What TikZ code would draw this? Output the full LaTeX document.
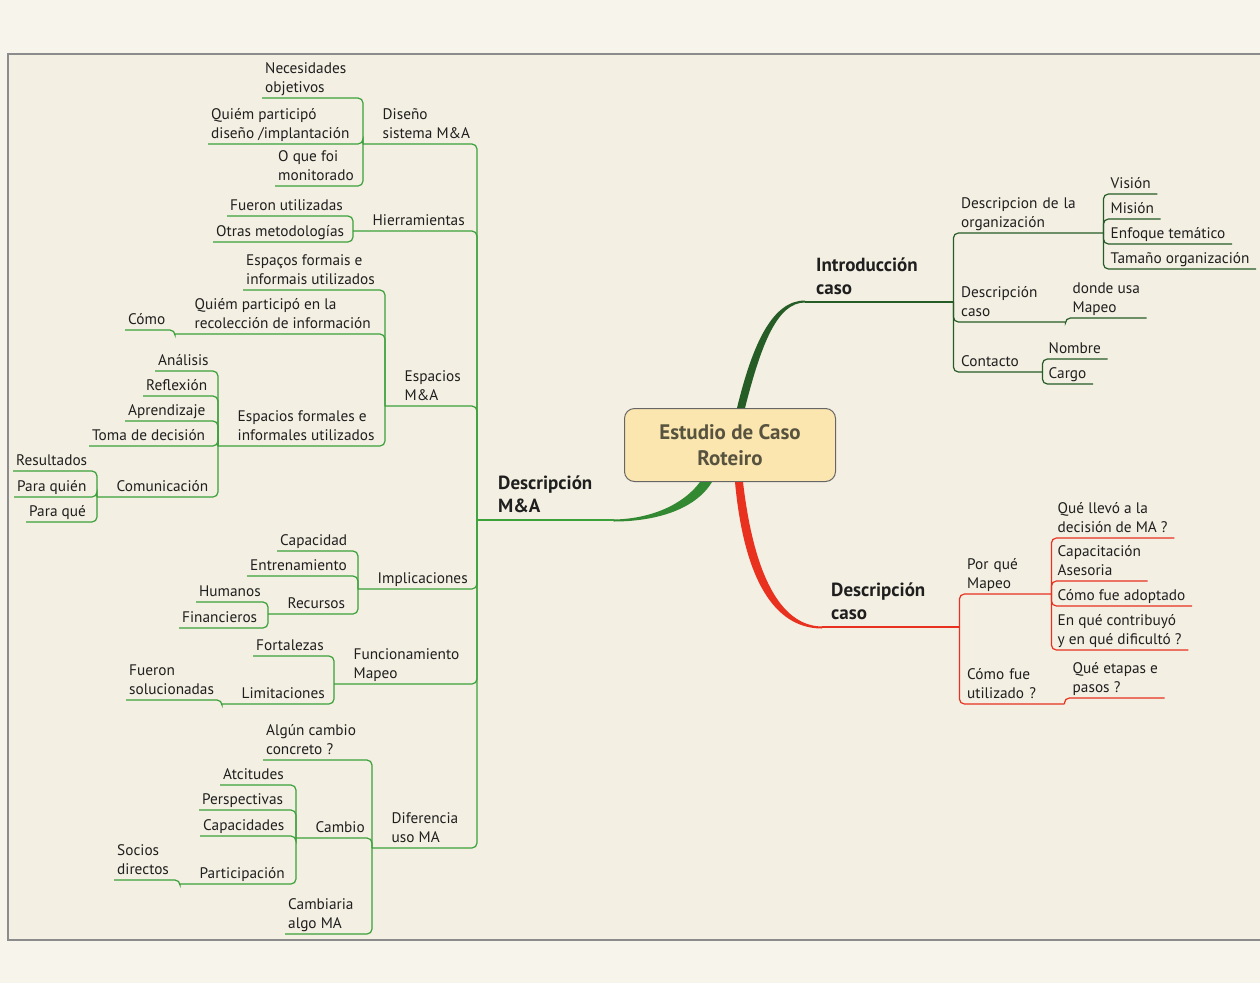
\documentclass[tikz,border=0pt]{standalone}
\usepackage{fontspec}
\setmainfont{PT Sans}

\definecolor{mmgreen}{HTML}{3BA13B}
\definecolor{mmdark}{HTML}{265C26}
\definecolor{mmred}{HTML}{E8311F}
\definecolor{paper}{HTML}{F3EFE2}
\definecolor{paperout}{HTML}{F7F4EB}
\definecolor{rootfill}{HTML}{FCE6B0}
\definecolor{roottext}{HTML}{58533F}

\tikzset{
	topic/.style={anchor=south west, align=left, inner ysep=0pt, text=black!88, font=\fontsize{15.3}{18.5}\selectfont, execute at end node=\strut},
	leaf/.style={topic, inner xsep=3pt},
	lhub/.style={topic, inner xsep=19.5pt},
	rleaf/.style={topic, inner xsep=6.5pt},
	rhub/.style={topic, inner xsep=8pt, text width=#1},
	main/.style={topic, font=\fontsize{19}{23}\selectfont\bfseries},
	root/.style={draw=black!60, line width=1pt, fill=rootfill, rounded corners=10pt, minimum width=211pt, minimum height=73pt, text=roottext, align=center, font=\fontsize{21}{26}\selectfont\bfseries},
	lline/.style={mmgreen, line width=1.2pt, rounded corners=5pt},
	iline/.style={mmdark, line width=1.2pt, rounded corners=5pt},
	rline/.style={mmred, line width=1.2pt, rounded corners=5pt},
}

\begin{document}
\begin{tikzpicture}[x=1pt,y=-1pt]
	\useasboundingbox (0,0) rectangle (1260,983);
	\fill[paperout] (0,0) rectangle (1260,983);
	\fill[paper] (8,54) rectangle (1262,940);
	\draw[black!45, line width=1.2pt] (1262,54) -- (8,54) -- (8,940) -- (1262,940);

	\node[root] (root) at (730,445) {Estudio de Caso\\Roteiro};

	% left branch
	\node[main, inner xsep=21pt] (dma) at (477,520) {Descripción\\M\&A};

	\node[lhub] (dis) at (363,144) {Diseño\\sistema M\&A};
	\node[leaf] (nec) at (262,98) {Necesidades\\objetivos};
	\node[leaf] (qpd) at (208,144) {Quiém participó\\diseño /implantación};
	\node[leaf] (oqf) at (275,186) {O que foi\\monitorado};

	\node[lhub] (her) at (353,231) {Hierramientas};
	\node[leaf] (fue) at (227,216) {Fueron utilizadas};
	\node[leaf] (otr) at (213,242) {Otras metodologías};

	\node[lhub] (esp) at (385,406) {Espacios\\M\&A};
	\node[leaf] (epi) at (243,290) {Espaços formais e\\informais utilizados};
	\node[lhub] (qpr) at (175,334) {Quiém participó en la\\recolección de información};
	\node[leaf] (como) at (125,330) {Cómo};
	\node[lhub] (efi) at (218,446) {Espacios formales e\\informales utilizados};
	\node[leaf] (ana) at (155,371) {Análisis};
	\node[leaf] (ref) at (143,396) {Reflexión};
	\node[leaf] (apr) at (125,421) {Aprendizaje};
	\node[leaf] (tom) at (89,446) {Toma de decisión};
	\node[lhub] (com) at (97,497) {Comunicación};
	\node[leaf] (res) at (13,471) {Resultados};
	\node[leaf] (paq) at (14,497) {Para quién};
	\node[leaf] (pqe) at (26,522) {Para qué};

	\node[lhub] (imp) at (358,589) {Implicaciones};
	\node[leaf] (cap) at (277,551) {Capacidad};
	\node[leaf] (ent) at (247,576) {Entrenamiento};
	\node[lhub] (rec) at (268,614) {Recursos};
	\node[leaf] (hum) at (196,602) {Humanos};
	\node[leaf] (fin) at (179,628) {Financieros};

	\node[lhub] (fun) at (334,684) {Funcionamiento\\Mapeo};
	\node[leaf] (fort) at (253,656) {Fortalezas};
	\node[lhub] (lim) at (222,704) {Limitaciones};
	\node[leaf] (sol) at (126,700) {Fueron\\solucionadas};

	\node[lhub] (dif) at (372,848) {Diferencia\\uso MA};
	\node[leaf] (alg) at (263,760) {Algún cambio\\concreto ?};
	\node[lhub] (cam) at (296,838) {Cambio};
	\node[leaf] (atc) at (220,785) {Atcitudes};
	\node[leaf] (per) at (199,810) {Perspectivas};
	\node[leaf] (cpd) at (200,836) {Capacidades};
	\node[lhub] (par) at (180,884) {Participación};
	\node[leaf] (soc) at (114,880) {Socios\\directos};
	\node[leaf] (cmb) at (285,934) {Cambiaria\\algo MA};

	% right branches
	\node[main, inner xsep=11pt, text width=126pt] (intro) at (805,302) {Introducción\\caso};
	\node[rhub=134pt] (org) at (953,233) {Descripcion de la\\organización};
	\node[rleaf] (vis) at (1104,194) {Visión};
	\node[rleaf] (mis) at (1104,219) {Misión};
	\node[rleaf] (enf) at (1104,244) {Enfoque temático};
	\node[rleaf] (tam) at (1104,269) {Tamaño organización};
	\node[rhub=96pt] (dca) at (953,322) {Descripción\\caso};
	\node[rleaf] (don) at (1066,318) {donde usa\\Mapeo};
	\node[rhub=73pt] (con) at (953,372) {Contacto};
	\node[rleaf] (nom) at (1042,359) {Nombre};
	\node[rleaf] (car) at (1042,384) {Cargo};

	\node[main, inner xsep=9pt, text width=119pt] (dcs) at (822,627) {Descripción\\caso};
	\node[rhub=76pt] (pqm) at (959,594) {Por qué\\Mapeo};
	\node[rleaf] (qll) at (1051,538) {Qué llevó a la\\decisión de MA ?};
	\node[rleaf] (cas) at (1051,581) {Capacitación\\Asesoria};
	\node[rleaf] (cfa) at (1051,606) {Cómo fue adoptado};
	\node[rleaf] (eqc) at (1051,650) {En qué contribuyó\\y en qué dificultó ?};
	\node[rhub=89pt] (cfu) at (959,704) {Cómo fue\\utilizado ?};
	\node[rleaf] (qet) at (1066,698) {Qué etapas e\\pasos ?};

	% tapered branches from the root
	\fill[mmgreen!85!black] ([xshift=-18]root.south) .. controls (695,510) and (655,521.5) .. ([yshift=-1.5]dma.south east) -- ([yshift=0.5]dma.south east) .. controls (650,519) and (683,505) .. ([xshift=-30]root.south) -- cycle;
	\fill[mmdark] ([xshift=7]root.north) .. controls (753,342) and (773,300.5) .. ([yshift=1.5]intro.south west) -- ([yshift=-0.5]intro.south west) .. controls (777,302.5) and (761,345) .. ([xshift=15]root.north) -- cycle;
	\fill[mmred] ([xshift=5]root.south) .. controls (745,590) and (780,628.5) .. ([yshift=-1.5]dcs.south west) -- ([yshift=0.5]dcs.south west) .. controls (785,626) and (755,585) .. ([xshift=13]root.south) -- cycle;

	\draw[lline, line width=1.6pt] (dma.south west) -- (dma.south east);
	\draw[iline, line width=1.6pt] (intro.south west) -- (intro.south east);
	\draw[rline, line width=1.6pt] (dcs.south west) -- (dcs.south east);

	\foreach \c/\p in {dis/dma, her/dma, esp/dma, imp/dma, fun/dma, dif/dma,
		nec/dis, qpd/dis, oqf/dis, fue/her, otr/her,
		epi/esp, qpr/esp, efi/esp, como/qpr,
		ana/efi, ref/efi, apr/efi, tom/efi, com/efi,
		res/com, paq/com, pqe/com,
		cap/imp, ent/imp, rec/imp, hum/rec, fin/rec,
		fort/fun, lim/fun, sol/lim,
		alg/dif, cam/dif, cmb/dif,
		atc/cam, per/cam, cpd/cam, par/cam, soc/par}
		\draw[lline] (\c.south west) -| (\p.south west);

	\foreach \p/\c in {intro/org, intro/dca, intro/con,
		org/vis, org/mis, org/enf, org/tam, dca/don, con/nom, con/car}
		\draw[iline] (\p.south east) |- (\c.south east);

	\foreach \p/\c in {dcs/pqm, dcs/cfu,
		pqm/qll, pqm/cas, pqm/cfa, pqm/eqc, cfu/qet}
		\draw[rline] (\p.south east) |- (\c.south east);
\end{tikzpicture}
\end{document}
